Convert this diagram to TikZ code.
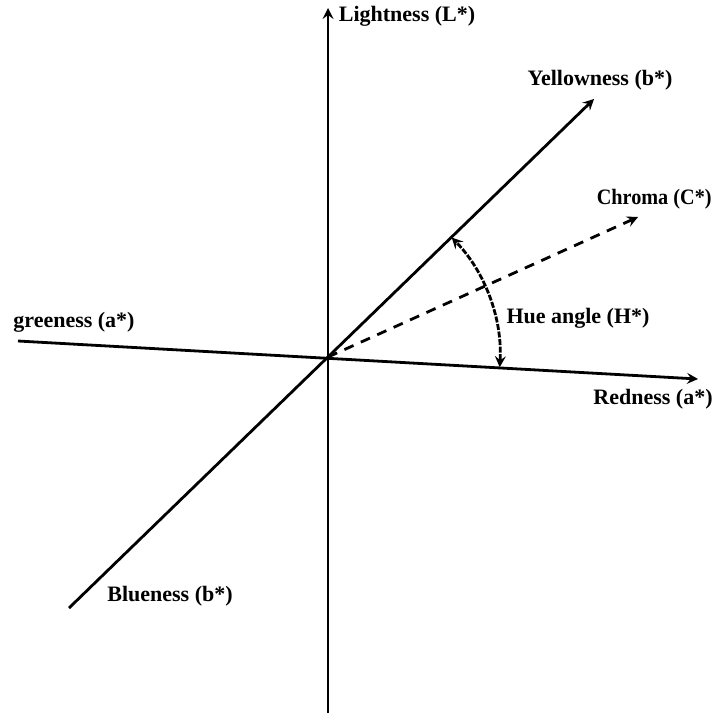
\documentclass[tikz,border=0pt]{standalone}
\usepackage{fontspec}
\setmainfont{Liberation Serif}

\begin{document}
\begin{tikzpicture}[x=0.5pt, y=-0.5pt, >=stealth,
    axis/.style={line width=1.4pt},
    lab/.style={font=\fontsize{11}{13}\selectfont\bfseries, inner sep=0pt}]
    \useasboundingbox (0,0) rectangle (716,713);

    % 原点与各轴端点
    \coordinate (O) at (328,357);
    \coordinate (Ltop) at (328,8);
    \coordinate (Lbot) at (328,713);
    \coordinate (Gend) at (18,341);
    \coordinate (Rend) at (698,379);
    \coordinate (Bend) at (69,608);
    \coordinate (Yend) at (594,99);
    \coordinate (Cend) at (638,217);

    % 画坐标轴 L*, a*, b*
    \draw[axis, ->] (Lbot) -- (Ltop);
    \draw[axis, ->] (Gend) -- (Rend);
    \draw[axis, ->] (Bend) -- (Yend);

    % 彩度 C* (虚线)
    \draw[axis, ->, dash pattern=on 5pt off 4pt] (O) -- (Cend);

    % 色相角 H*
    \draw[axis, <->, dash pattern=on 3pt off 0.8pt] ([shift={(-3.4:86pt)}]O) arc[start angle=-3.4, end angle=44, radius=86pt];

    % 标注
    \node[lab] (lightness) at (407,16) {Lightness (L*)};
    \node[lab] (yellowness) at (600,80) {Yellowness (b*)};
    \node[lab, anchor=east, xscale=0.92] (chroma) at (712,199) {Chroma (C*)};
    \node[lab] (hue) at (578,318) {Hue angle (H*)};
    \node[lab] (redness) at (653,399) {Redness (a*)};
    \node[lab] (greeness) at (74,322) {greeness (a*)};
    \node[lab] (blueness) at (170,596) {Blueness (b*)};
\end{tikzpicture}
\end{document}
